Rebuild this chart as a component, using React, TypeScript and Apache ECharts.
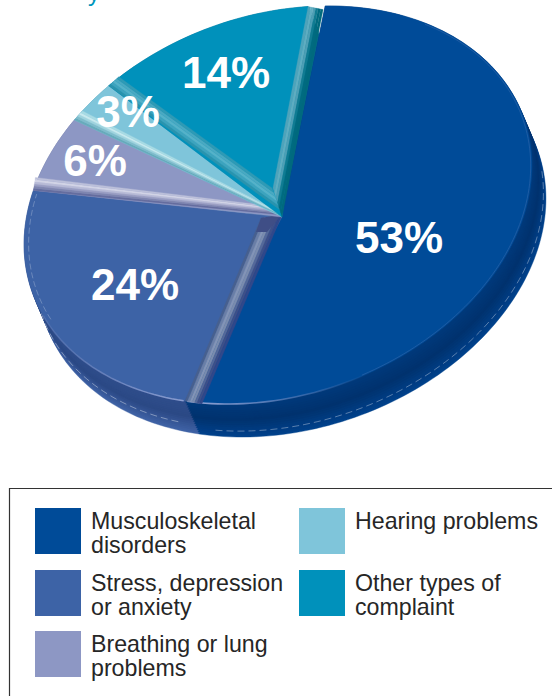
import React, { useEffect, useRef } from "react";
import * as echarts from "echarts";

// ---- data ----
const categories = [
  "Musculoskeletal\ndisorders",
  "Stress, depression\nor anxiety",
  "Breathing or lung\nproblems",
  "Hearing problems",
  "Other types of\ncomplaint",
];
const sliceValues = [53, 24, 6, 3, 14];

// ---- styling ----
const sliceColors = ["#004b98", "#3d63a6", "#8d97c4", "#7fc5da", "#0091bb"];
const wallStops = [
  ["#003a7c", "#00326e", "#00418b"],
  ["#2f4e8c", "#2b4985", "#3f62a5"],
  ["#6a73a0", "#6a73a0", "#6a73a0"],
  ["#5aa0b5", "#5aa0b5", "#5aa0b5"],
  ["#006f90", "#006f90", "#006f90"],
];
const legendCells = [
  { x: 35, y: 508 },
  { x: 35, y: 570 },
  { x: 35, y: 631 },
  { x: 299, y: 508 },
  { x: 299, y: 570 },
];
const labelCenters = [
  [399, 237],
  [135, 284],
  [95, 160],
  [128, 111],
  [226, 72],
];

// pie geometry
const C = { x: 278, y: 205 };
const APEX = { x: 282, y: 217 };
const A = 260.8;
const B = 190;
const PHI = (-19.4 * Math.PI) / 180;
const T0 = -64.9;
const EXTRUDE = { x: 14, y: 33 };
const boundaryNudge = [0, 0, -2.3, -2.8, -2.1, -3.9];

const rad = (d: number) => (d * Math.PI) / 180;
function rim(t: number, scale = 1): [number, number] {
  const lx = A * scale * Math.cos(rad(t));
  const ly = B * scale * Math.sin(rad(t));
  return [C.x + lx * Math.cos(PHI) - ly * Math.sin(PHI), C.y + lx * Math.sin(PHI) + ly * Math.cos(PHI)];
}
function arc(t1: number, t2: number, scale = 1, dx = 0, dy = 0) {
  const n = Math.max(2, Math.ceil(Math.abs(t2 - t1) / 1.5));
  const pts: [number, number][] = [];
  for (let i = 0; i <= n; i++) {
    const p = rim(t1 + ((t2 - t1) * i) / n, scale);
    pts.push([p[0] + dx, p[1] + dy]);
  }
  return pts;
}
function boundaries() {
  const total = sliceValues.reduce((a, b) => a + b, 0);
  const out = [T0];
  let acc = 0;
  sliceValues.forEach((v) => {
    acc += v;
    out.push(T0 + (acc / total) * 360);
  });
  return out;
}
function sliceRange(i: number): [number, number] {
  const b = boundaries();
  return [b[i] + boundaryNudge[i], b[i + 1] + boundaryNudge[i + 1]];
}
function hex(c: string) {
  return [1, 3, 5].map((k) => parseInt(c.slice(k, k + 2), 16));
}
function mix(a: string, b: string, f: number) {
  const x = hex(a), y = hex(b);
  return `rgb(${x.map((v, i) => Math.round(v + (y[i] - v) * f)).join(",")})`;
}

// bevel bands: from the boundary's rim point to near the apex
type Band = {
  boundary: number;
  rimVec: number[];
  apexStart: number[];
  apexVec: number[];
  colors: string[];
};
const bandsBySlice: Record<number, Band[]> = {
  1: [{
    boundary: 1, rimVec: [17, 3], apexStart: [-21, 1], apexVec: [21, -3],
    colors: ["#47608f", "#6a7ea6", "#8394b6", "#7a8cae", "#55699a", "#3e5089", "#31488a"],
  }],
  2: [{
    boundary: 2, rimVec: [2, -13], apexStart: [0, -2], apexVec: [-3, -8],
    colors: ["#666e9f", "#7f86b0", "#9a9ec3", "#b7bad6", "#d2d4e6", "#bcc0da"],
  }],
  3: [{
    boundary: 3, rimVec: [8, -9], apexStart: [0, -1], apexVec: [-3, -4],
    colors: ["#68aabb", "#7fbccb", "#a0d3de", "#c8e9ee", "#a8dbe4"],
  }],
  4: [
    {
      boundary: 4, rimVec: [10, -9], apexStart: [-2, -7], apexVec: [-8, -22],
      colors: ["#2a93ad", "#3ea3bd", "#55b2c9", "#4aa9c2", "#2f9ab5"],
    },
    {
      boundary: 5, rimVec: [15, 3], apexStart: [-9, -29], apexVec: [9, 29],
      colors: ["#4fa3ba", "#5fadc1", "#4d9fb5", "#107c92", "#006b80", "#006a7d"],
    },
  ],
};

function bandChildren(band: Band) {
  const b = boundaries();
  const r0 = rim(b[band.boundary] + boundaryNudge[band.boundary]);
  const a0 = [APEX.x + band.apexStart[0], APEX.y + band.apexStart[1]];
  const n = band.colors.length;
  return band.colors.map((color, k) => {
    const s0 = k / n;
    const s1 = (k + 1) / n;
    return {
      type: "polygon",
      shape: {
        points: [
          [r0[0] + band.rimVec[0] * s0, r0[1] + band.rimVec[1] * s0],
          [r0[0] + band.rimVec[0] * s1, r0[1] + band.rimVec[1] * s1],
          [a0[0] + band.apexVec[0] * s1, a0[1] + band.apexVec[1] * s1],
          [a0[0] + band.apexVec[0] * s0, a0[1] + band.apexVec[1] * s0],
        ],
      },
      style: { fill: color, stroke: color, lineWidth: 0.3 },
    };
  });
}

function renderWall(params: any) {
  const order = [1, 2, 3, 4, 0];
  const i = order[params.dataIndex];
  const [t1, t2] = sliceRange(i);
  const stops = wallStops[i];
  const layers = 16;
  const children: any[] = [];
  for (let k = layers; k >= 0; k--) {
    const s = k / layers;
    const dx = EXTRUDE.x * s;
    const dy = EXTRUDE.y * s;
    const color = s < 0.5 ? mix(stops[0], stops[1], s * 2) : mix(stops[1], stops[2], (s - 0.5) * 2);
    children.push({
      type: "polygon",
      shape: { points: [[APEX.x + dx, APEX.y + dy], ...arc(t1, t2, 1, dx, dy)] },
      style: { fill: color, stroke: color, lineWidth: 0.4 },
    });
  }
  if (i === 0) {
    children.push({
      type: "polyline",
      shape: { points: arc(8, 122, 1, EXTRUDE.x * 0.82, EXTRUDE.y * 0.82) },
      style: { fill: "none", stroke: "rgba(255,255,255,0.5)", lineWidth: 0.7, lineDash: [7, 4] },
    });
  }
  if (i === 1) {
    children.push({
      type: "polyline",
      shape: { points: arc(130, 190, 1, EXTRUDE.x * 0.72, EXTRUDE.y * 0.72) },
      style: { fill: "none", stroke: "rgba(255,255,255,0.55)", lineWidth: 0.7, lineDash: [7, 4] },
    });
  }
  return { type: "group", children };
}

function renderTop(params: any) {
  const i = params.dataIndex;
  const [t1, t2] = sliceRange(i);
  const children: any[] = [
    {
      type: "polygon",
      shape: { points: [[APEX.x, APEX.y], ...arc(t1, t2)] },
      style: { fill: sliceColors[i], stroke: sliceColors[i], lineWidth: 0.4 },
    },
  ];
  if (i === 0) {
    children.push({
      type: "polyline",
      shape: { points: arc(-40, 85, 0.995) },
      style: { fill: "none", stroke: "#2a63a8", lineWidth: 1, opacity: 0.7 },
    });
    children.push({
      type: "polyline",
      shape: { points: arc(80, t2 - 0.5) },
      style: {
        fill: "none", lineWidth: 1.6,
        stroke: new echarts.graphic.LinearGradient(370, 0, 200, 0, [
          { offset: 0, color: "rgba(130,150,205,0)" },
          { offset: 1, color: "#8ea0d2" },
        ], true),
      },
    });
  }
  if (i === 1) {
    children.push({
      type: "polyline",
      shape: { points: arc(t1 + 0.3, 172) },
      style: {
        fill: "none", lineWidth: 1.5,
        stroke: new echarts.graphic.LinearGradient(190, 0, 50, 0, [
          { offset: 0, color: "#8ea0d2" },
          { offset: 1, color: "rgba(130,150,205,0.3)" },
        ], true),
      },
    });
    children.push({
      type: "polyline",
      shape: { points: arc(170, t2 - 1, 0.982) },
      style: { fill: "none", stroke: "rgba(255,255,255,0.3)", lineWidth: 0.8, lineDash: [6, 3] },
    });
  }
  (bandsBySlice[i] || []).forEach((band) => children.push(...bandChildren(band)));
  if (i === 1) {
    children.push({
      type: "polygon",
      shape: {
        points: [
          [APEX.x - 21, APEX.y + 1],
          [APEX.x, APEX.y - 3],
          [APEX.x - 15, APEX.y + 15],
          [APEX.x - 26, APEX.y + 15],
        ],
      },
      style: { fill: "#3f4e86" },
    });
  }
  return { type: "group", children };
}

function renderLabel(params: any, api: any) {
  const i = params.dataIndex;
  const [x, y] = labelCenters[i];
  return {
    type: "text",
    style: {
      text: `${api.value(0)}%`,
      x,
      y,
      fill: "#ffffff",
      font: 'bold 44px "Liberation Sans", Arial, sans-serif',
      align: "center",
      verticalAlign: "middle",
    },
  };
}

const legendFont = '23.2px "Liberation Sans", Arial, sans-serif';

export default function App() {
  const ref = useRef<HTMLDivElement>(null);
  useEffect(() => {
    document.body.style.margin = "0";
    const chart = echarts.init(ref.current!, undefined, { renderer: "svg" });
    const items = sliceValues.map((v, i) => ({ value: [v], name: categories[i] }));
    const wallOrder = [1, 2, 3, 4, 0];
    const graphic: any[] = [
      {
        type: "text",
        x: 88,
        y: -20,
        style: { text: "y", fill: "#0095bb", font: '24px "Liberation Sans", Arial, sans-serif' },
      },
      {
        type: "polyline",
        shape: { points: [[9.5, 696], [9.5, 488.5], [552, 488.5]] },
        style: { fill: "none", stroke: "#333333", lineWidth: 1.2 },
      },
    ];
    categories.forEach((label, i) => {
      const cell = legendCells[i];
      graphic.push({
        type: "rect",
        shape: { x: cell.x, y: cell.y, width: 46, height: 46 },
        style: { fill: sliceColors[i] },
      });
      graphic.push({
        type: "text",
        x: cell.x + 56,
        y: cell.y + 1,
        style: {
          text: label,
          fill: "#262626",
          font: legendFont,
          lineHeight: 24,
          align: "left",
          verticalAlign: "top",
        },
      });
    });
    chart.setOption({
      animation: false,
      backgroundColor: "#ffffff",
      graphic: { elements: graphic },
      series: [
        {
          type: "custom",
          coordinateSystem: "none",
          silent: true,
          z: 1,
          data: wallOrder.map((i) => items[i]),
          renderItem: renderWall,
        },
        {
          type: "custom",
          coordinateSystem: "none",
          silent: true,
          z: 2,
          data: items,
          renderItem: renderTop,
        },
        {
          type: "custom",
          coordinateSystem: "none",
          silent: true,
          z: 3,
          data: items,
          renderItem: renderLabel,
        },
      ],
    });
    return () => chart.dispose();
  }, []);
  return <div ref={ref} style={{ width: 552, height: 696 }} />;
}
